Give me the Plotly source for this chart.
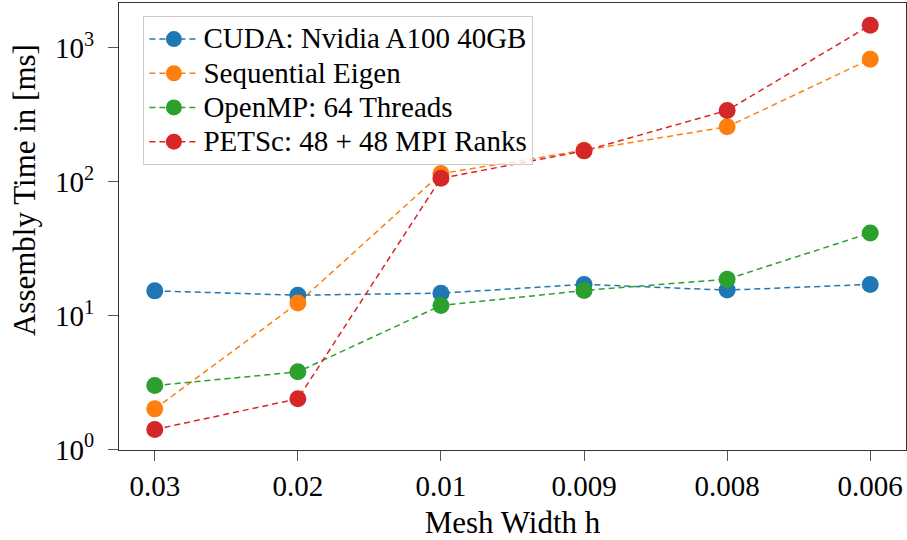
import plotly.graph_objects as go

# Mesh widths (categorical x axis)
mesh_widths = ["0.03", "0.02", "0.01", "0.009", "0.008", "0.006"]

# Assembly time in ms per implementation
cuda_a100 = [15.3, 14.2, 14.7, 17.1, 15.5, 17.1]
sequential_eigen = [2.01, 12.4, 115, 172, 257, 823]
openmp_64 = [3.0, 3.8, 11.9, 15.4, 18.7, 41.4]
petsc_mpi = [1.41, 2.39, 106, 170, 341, 1476]

series = [
    ("CUDA: Nvidia A100 40GB", cuda_a100, "#1f77b4"),
    ("Sequential Eigen", sequential_eigen, "#ff7f0e"),
    ("OpenMP: 64 Threads", openmp_64, "#2ca02c"),
    ("PETSc: 48 + 48 MPI Ranks", petsc_mpi, "#d62728"),
]

y_tick_vals = [1, 10, 100, 1000]
y_tick_text = ["10<sup>0</sup>", "10<sup>1</sup>", "10<sup>2</sup>", "10<sup>3</sup>"]

font_family = "Liberation Serif"
legend_text_px = 29

fig = go.Figure()
for name, values, color in series:
    fig.add_trace(go.Scatter(
        x=mesh_widths,
        y=values,
        # legend rows stay compact while the label text is drawn larger
        name=f'<span style="font-size:{legend_text_px}px">{name}</span>',
        mode="lines+markers",
        line=dict(color=color, width=1.5, dash="6px,4px"),
        marker=dict(color=color, size=17, line=dict(width=0)),
    ))

# y-axis title placed as a rotated annotation
fig.add_annotation(
    text="Assembly Time in [ms]",
    xref="paper", yref="paper",
    x=-0.1194, y=0.5817,
    xanchor="center", yanchor="middle",
    textangle=-90, showarrow=False,
    font=dict(family=font_family, size=31, color="black"),
)

fig.update_layout(
    width=907,
    height=540,
    margin=dict(l=119, r=1, t=3, b=90),
    paper_bgcolor="white",
    plot_bgcolor="white",
    font=dict(family=font_family, size=29, color="black"),
    legend=dict(
        x=0.031, y=0.971, xanchor="left", yanchor="top",
        bgcolor="rgba(255,255,255,0.8)",
        bordercolor="#cccccc", borderwidth=1,
        font=dict(family=font_family, size=24, color="black"),
        itemwidth=49,
        tracegroupgap=0,
    ),
    xaxis=dict(
        type="category",
        range=[-0.25, 5.25],
        title=dict(text="Mesh Width h", font=dict(family=font_family, size=31), standoff=10),
        showline=True, linecolor="#333333", linewidth=1, mirror=True,
        ticks="outside", ticklen=10, tickcolor="#555555",
        showgrid=False, zeroline=False,
        tickfont=dict(family=font_family, size=29),
    ),
    yaxis=dict(
        type="log",
        range=[-0.004, 3.335],
        tickvals=y_tick_vals,
        ticktext=y_tick_text,
        showline=True, linecolor="#333333", linewidth=1, mirror=True,
        ticks="outside", ticklen=10, tickcolor="#555555",
        ticklabelstandoff=8,
        showgrid=False, zeroline=False,
        tickfont=dict(family=font_family, size=29),
    ),
)

fig.write_html("out.html")
